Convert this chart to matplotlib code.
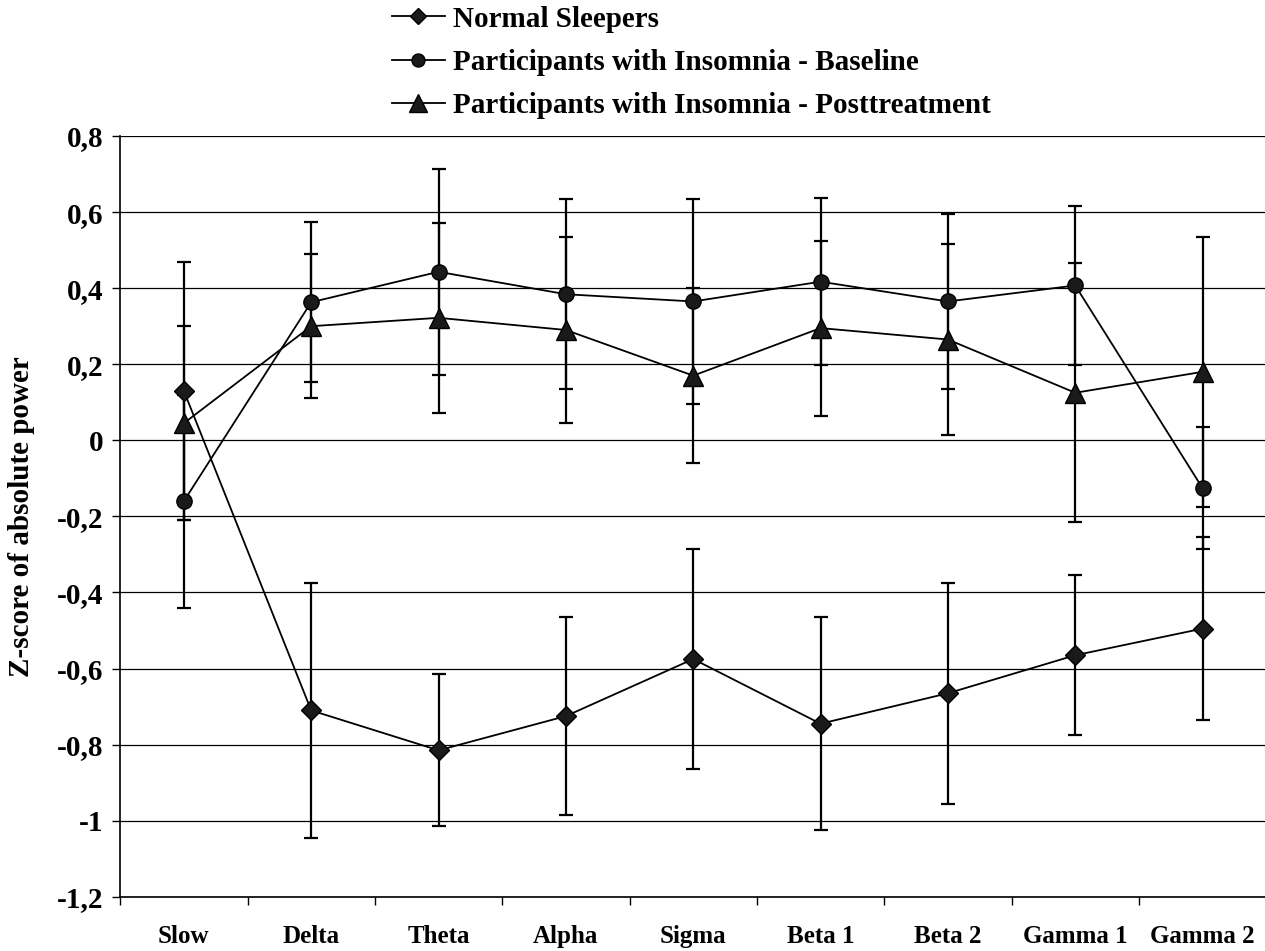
import matplotlib
matplotlib.use('Agg')
import matplotlib.pyplot as plt
import numpy as np

# Values (z-scores, symmetric error bars)
bands = ['Slow', 'Delta', 'Theta', 'Alpha', 'Sigma', 'Beta 1', 'Beta 2', 'Gamma 1', 'Gamma 2']

normal = [0.13, -0.71, -0.815, -0.725, -0.575, -0.745, -0.665, -0.565, -0.495]
normal_err = [0.34, 0.335, 0.20, 0.26, 0.29, 0.28, 0.29, 0.21, 0.24]

baseline = [-0.16, 0.363, 0.443, 0.384, 0.365, 0.417, 0.365, 0.407, -0.126]
baseline_err = [0.28, 0.21, 0.27, 0.25, 0.27, 0.22, 0.23, 0.21, 0.16]

post = [0.045, 0.30, 0.322, 0.29, 0.17, 0.295, 0.265, 0.125, 0.18]
post_err = [0.255, 0.19, 0.25, 0.245, 0.23, 0.23, 0.25, 0.34, 0.355]

yticks = [-1.2, -1.0, -0.8, -0.6, -0.4, -0.2, 0.0, 0.2, 0.4, 0.6, 0.8]
ytick_labels = ['-1,2', '-1', '-0,8', '-0,6', '-0,4', '-0,2', '0', '0,2', '0,4', '0,6', '0,8']

plt.rcParams['font.family'] = ['Liberation Serif', 'DejaVu Serif']
plt.rcParams['font.weight'] = 'bold'

fig = plt.figure(figsize=(12.65, 9.51), dpi=100)
ax = fig.add_axes([0.095, 0.057, 0.906, 0.800])

x = np.arange(len(bands))
series = [
    (normal, normal_err, 'D', 10, 'Normal Sleepers'),
    (baseline, baseline_err, 'o', 11, 'Participants with Insomnia - Baseline'),
    (post, post_err, '^', 15, 'Participants with Insomnia - Posttreatment'),
]
handles = []
for vals, errs, mk, ms, lab in series:
    ax.errorbar(x, vals, yerr=errs, fmt='none', ecolor='black', elinewidth=1.6,
                capsize=5, capthick=1.6, zorder=2)
    h, = ax.plot(x, vals, color='black', lw=1.3, marker=mk, markersize=ms,
                 markerfacecolor='#1a1a1a', markeredgecolor='black', label=lab, zorder=3)
    handles.append(h)

ax.set_xlim(-0.5, len(bands) - 0.5)
ax.set_ylim(-1.2, 0.8)
ax.set_yticks(yticks)
ax.set_yticklabels(ytick_labels, fontsize=21, fontweight='bold')
ax.yaxis.grid(True, color='black', lw=0.9)
ax.set_axisbelow(True)

ax.set_xticks(x)
ax.set_xticklabels(bands, fontsize=18, fontweight='bold')
ax.set_xticks(np.arange(len(bands) + 1) - 0.5, minor=True)
ax.tick_params(axis='x', which='major', length=0, pad=20)
ax.tick_params(axis='x', which='minor', length=6, width=1, direction='out')
ax.tick_params(axis='y', length=6, width=1, direction='out', pad=6)

for s in ['top', 'right']:
    ax.spines[s].set_visible(False)
ax.spines['left'].set_linewidth(1.2)
ax.spines['bottom'].set_linewidth(1.2)

ax.set_ylabel('Z-score of absolute power', fontsize=21, fontweight='bold')
ax.yaxis.set_label_coords(-0.074, 0.5)

fig.legend(handles=handles, loc='upper left', bbox_to_anchor=(0.31, 0.994),
           frameon=False, handlelength=1.8, handletextpad=0.28, markerscale=0.85,
           labelspacing=0.56, borderpad=0, borderaxespad=0,
           prop={'weight': 'bold', 'size': 21})

fig.savefig('out.png', dpi=100)
